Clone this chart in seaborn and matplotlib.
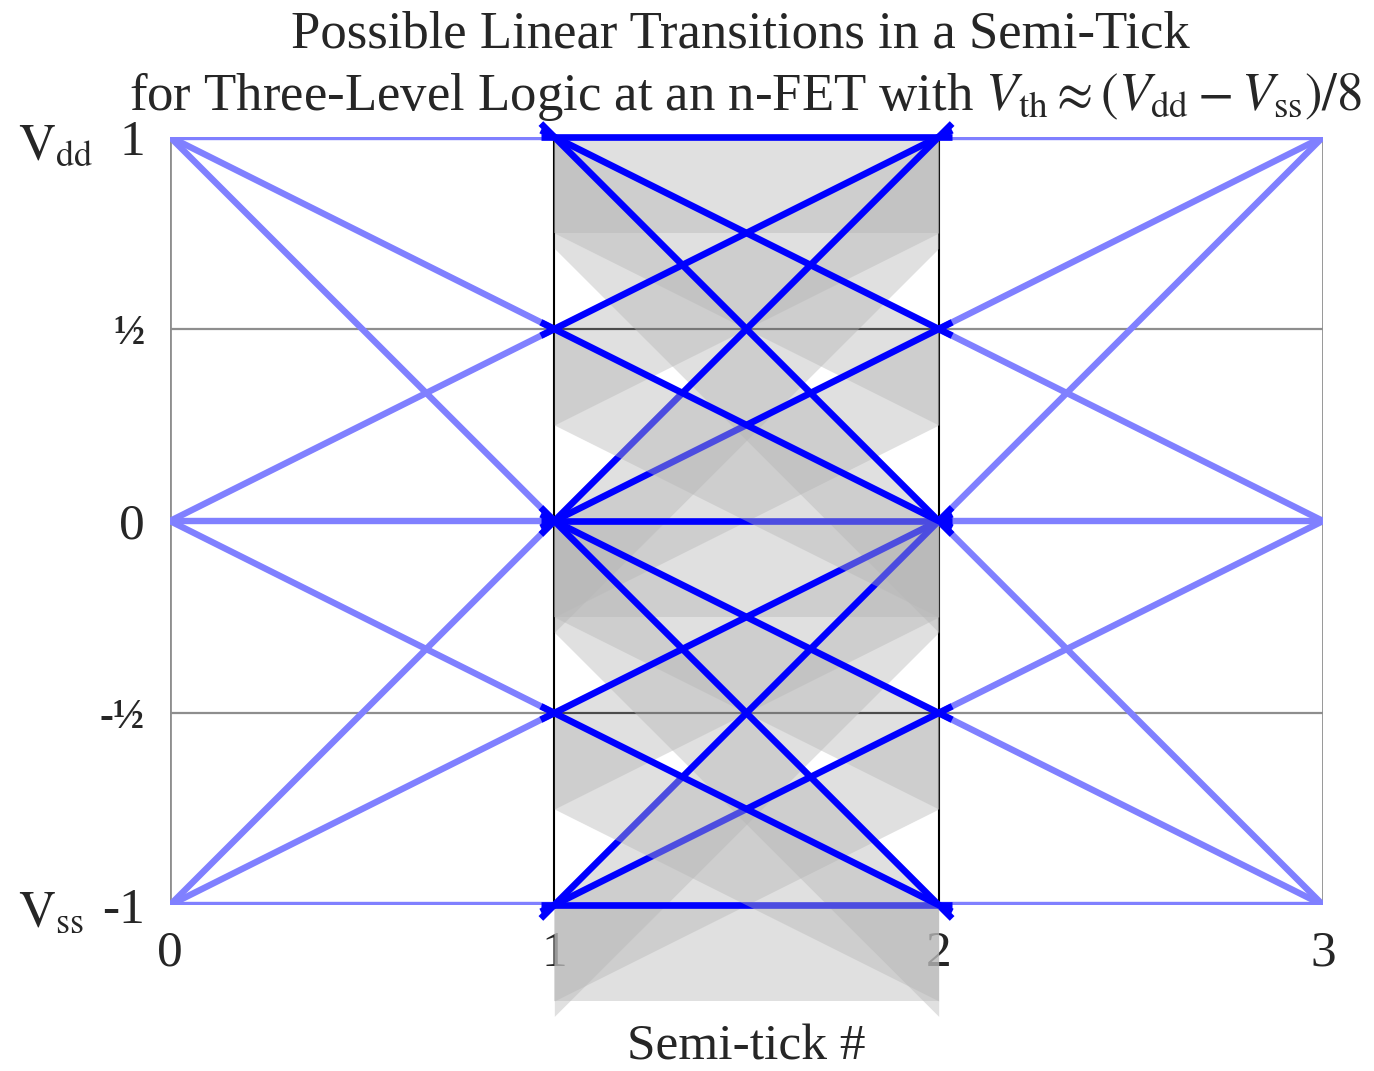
import matplotlib
matplotlib.use("Agg")
import matplotlib.pyplot as plt
import numpy as np
import pandas as pd
import seaborn as sns

# Voltage levels (in units of (Vdd - Vss)/2) and semi-tick positions
levels = [-1, -0.5, 0, 0.5, 1]
level_labels = ["-1", "-½", "0", "½", "1"]
semi_ticks = [0, 1, 2, 3]
semi_tick_labels = ["0", "1", "2", "3"]

# Faded transitions before semi-tick 1 (level at 0 -> level at 1)
left_from = [1, 1, 1, 0, 0, 0, -1, -1, -1]
left_to = [1, 0.5, 0, 0.5, 0, -0.5, 0, -0.5, -1]

# Faded transitions after semi-tick 2 (level at 2 -> level at 3)
right_from = [1, 0.5, 0, 0.5, 0, -0.5, 0, -0.5, -1]
right_to = [1, 1, 1, 0, 0, 0, -1, -1, -1]

# Highlighted transitions within the semi-tick from 1 to 2
mid_from = [-1, -1, -1, -0.5, -0.5, 0, 0, 0, 0, 0, 0.5, 0.5, 1, 1, 1]
mid_to = [-1, -0.5, 0, -1, 0, -1, -0.5, 0, 0.5, 1, 0, 1, 0, 0.5, 1]

VTH = 0.25          # threshold voltage, (Vdd - Vss)/8
STEEP_DEPTH = 0.29  # band depth drawn under full-swing transitions

sns.set_theme(style="white")
plt.rcParams["font.family"] = ["Liberation Serif", "DejaVu Serif"]
plt.rcParams["mathtext.fontset"] = "stix"

fig = plt.figure(figsize=(13.74, 10.71), dpi=100)
ax = fig.add_axes([170 / 1374, 1 - 905 / 1071, 1153 / 1374, 768 / 1071])
ax.set_xlim(0, 3)
ax.set_ylim(-1, 1)
for sp in ax.spines.values():
    sp.set_visible(False)

# grid
grid_grey = "#8e8e8e"
ax.hlines(levels, 0, 3, color=grid_grey, lw=1.6, zorder=1)
ax.vlines([0, 3], -1, 1, color=grid_grey, lw=2.0, zorder=1)
ax.vlines([1, 2], -1, 1, color="black", lw=1.5, zorder=1.5)
ax.hlines([-0.5, 0.5], 1, 2, color="black", lw=1.5, zorder=1.5)

# faded transitions on both sides
def segments(x0, x1, ys0, ys1, tag):
    rows = []
    for i, (a, b) in enumerate(zip(ys0, ys1)):
        rows.append({"seg": f"{tag}{i}", "x": x0, "y": a})
        rows.append({"seg": f"{tag}{i}", "x": x1, "y": b})
    return rows

faded = pd.DataFrame(segments(0, 1, left_from, left_to, "L")
                     + segments(2, 3, right_from, right_to, "R"))
sns.lineplot(data=faded, x="x", y="y", units="seg", estimator=None,
             color="#8080ff", lw=4.6, ax=ax, zorder=2, sort=False,
             solid_capstyle="butt")

# highlighted transitions; the bands of half-steps falling onto a logic
# level are laid over the other lines, the rest stay beneath them
ext = 0.035
for a, b in zip(mid_from, mid_to):
    slope = b - a
    depth = STEEP_DEPTH if abs(slope) >= 1 else VTH
    on_top = (a % 1 != 0) and slope < 0
    by = np.array([a, b])
    ax.fill_between([1, 2], by, by - depth, color="#b6b6b6", alpha=0.42,
                    lw=0, zorder=6 if on_top else 4, clip_on=False)
    xs = np.array([1 - ext, 2 + ext])
    ys = a + slope * (xs - 1)
    ax.plot(xs, ys, color="#0000ff", lw=4.8, zorder=7 if on_top else 5,
            solid_capstyle="butt", clip_on=False)

# ticks and labels
ax.set_xticks(semi_ticks, semi_tick_labels)
ax.set_yticks(levels, level_labels)
ax.tick_params(axis="both", length=0, labelsize=37)
ax.tick_params(axis="x", pad=18)
ax.tick_params(axis="y", pad=18)
for lab in ax.get_yticklabels():
    if "½" in lab.get_text():
        lab.set_fontsize(30)
        lab.set_fontweight("bold")

ax.set_ylabel("")
ax.set_xlabel("Semi-tick #", fontsize=37, labelpad=34)

fig.text(18 / 1374, 1 - 160 / 1071, r"$\mathrm{V_{dd}}$", fontsize=37,
         ha="left", va="baseline")
fig.text(18 / 1374, 1 - 927 / 1071, r"$\mathrm{V_{ss}}$", fontsize=37,
         ha="left", va="baseline")

fig.text(740 / 1374, 1 - 48 / 1071,
         "Possible Linear Transitions in a Semi-Tick",
         fontsize=38, ha="center", va="baseline")
fig.text(746 / 1374, 1 - 110 / 1071,
         r"for Three-Level Logic at an n-FET with $V_{\mathrm{th}} \approx (V_{\mathrm{dd}} - V_{\mathrm{ss}})/8$",
         fontsize=38, ha="center", va="baseline")

fig.savefig("out.png", dpi=100)
